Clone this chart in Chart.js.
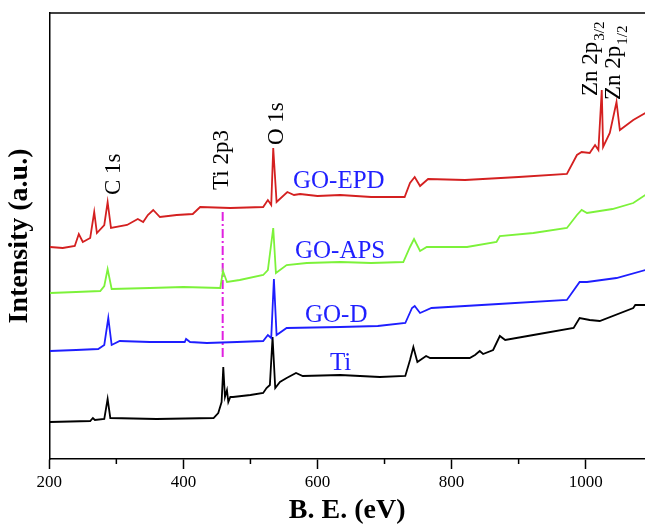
<!DOCTYPE html>
<html>
<head>
<meta charset="utf-8">
<script src="https://cdn.jsdelivr.net/npm/chart.js@4/dist/chart.umd.min.js"></script>
<style>
  html, body { margin: 0; padding: 0; background: #fff; }
</style>
</head>
<body>
<canvas id="chart" width="645" height="525"></canvas>
<script>
// binding energy (eV) / intensity (a.u.)
const epdEv  = [201, 220, 238, 244, 250, 261, 267, 271, 282, 287, 292, 316, 332, 340, 347, 355, 365, 390, 414, 425, 470, 519, 526, 531, 534, 539, 555, 565, 574, 600, 634, 680, 730, 738, 745, 753, 765, 820, 900, 972, 987, 994, 1006, 1014, 1019, 1024, 1026, 1036, 1046, 1051, 1071, 1089];
const epdInt = [212, 211, 213, 225, 217, 221, 247, 226, 234, 257, 231, 234, 240, 237, 244, 249, 242, 244, 245, 252, 251, 252, 259, 254, 311, 257, 267, 264, 265, 263, 264, 262, 262, 276, 282, 273, 280, 279, 282, 285, 304, 307, 306, 314, 309, 369, 312, 326, 357, 329, 339, 346];

const apsEv  = [201, 240, 276, 282, 287, 293, 350, 400, 455, 459, 465, 484, 519, 526, 534, 538, 554, 584, 634, 680, 728, 738, 744, 753, 763, 823, 867, 872, 922, 972, 987, 994, 1002, 1040, 1071, 1089];
const apsInt = [166, 167, 168, 173, 190, 170, 171, 172, 171, 188, 177, 179, 184, 189, 231, 186, 194, 196, 197, 196, 197, 212, 220, 208, 212, 212, 217, 223, 226, 231, 244, 249, 246, 250, 256, 264];

const godEv  = [201, 240, 273, 282, 288, 293, 305, 350, 402, 404, 410, 435, 480, 519, 526, 531, 535, 539, 554, 634, 690, 731, 741, 745, 753, 770, 870, 972, 991, 1002, 1046, 1089];
const godInt = [108, 109, 110, 114, 141, 114, 118, 117, 117, 120, 117, 116, 117, 118, 124, 121, 180, 124, 131, 132, 133, 136, 151, 153, 146, 151, 155, 159, 177, 177, 181, 189];

const tiEv  = [201, 261, 265, 268, 282, 287, 291, 360, 445, 452, 457, 459.5, 462, 465, 467, 470, 474, 500, 519, 524, 529, 533, 537, 544, 554, 568, 578, 634, 693, 731, 738, 743, 749, 762, 768, 827, 835, 842, 847, 862, 872, 880, 922, 982, 991, 1006, 1021, 1071, 1074, 1089];
const tiInt = [37, 38, 41, 39, 40, 60, 41, 40, 41, 46, 57, 92, 62, 69, 57, 62, 62, 64, 66, 71, 74, 122, 71, 77, 81, 86, 83, 84, 82, 83, 99, 112, 97, 103, 101, 101, 104, 108, 105, 109, 123, 119, 124, 131, 141, 139, 138, 151, 154, 154];

const ti2pEv  = [458.6, 458.6];
const ti2pInt = [102, 250];

const xTicks = [200, 400, 600, 800, 1000];
const minorTicks = [300, 500, 700, 900];

const toPoints = (xs, ys) => xs.map((x, i) => ({ x: x, y: ys[i] }));

// text placed in data coordinates
const peakLabels = [
    { text: 'C 1s', x: 305.6, y: 264 },
    { text: 'Ti 2p3', x: 466.5, y: 269 },
    { text: 'O 1s', x: 548.6, y: 314 },
    { text: 'Zn 2p', sub: '3/2', x: 1016.7, y: 363 },
    { text: 'Zn 2p', sub: '1/2', x: 1051, y: 359 }
];
const sampleLabels = [
    { text: 'GO-EPD', x: 563.4, y: 271 },
    { text: 'GO-APS', x: 566.4, y: 201 },
    { text: 'GO-D', x: 581.3, y: 137 },
    { text: 'Ti', x: 618.6, y: 89 }
];

const serif = '"Liberation Serif", "Times New Roman", serif';

const decorations = {
    id: 'decorations',
    afterDraw(chart) {
        const ctx = chart.ctx;
        const area = chart.chartArea;
        const xs = chart.scales.x, ys = chart.scales.y;
        ctx.save();
        // top frame
        ctx.strokeStyle = '#000';
        ctx.lineWidth = 1.5;
        ctx.beginPath();
        ctx.moveTo(area.left, area.top);
        ctx.lineTo(area.right, area.top);
        ctx.stroke();
        // minor ticks
        minorTicks.forEach(v => {
            const px = xs.getPixelForValue(v);
            ctx.beginPath();
            ctx.moveTo(px, area.bottom);
            ctx.lineTo(px, area.bottom + 5);
            ctx.stroke();
        });
        // peak labels
        ctx.fillStyle = '#000';
        peakLabels.forEach(l => {
            const px = xs.getPixelForValue(l.x), py = ys.getPixelForValue(l.y);
            ctx.save();
            ctx.translate(px, py);
            ctx.rotate(-Math.PI / 2);
            ctx.textAlign = 'left';
            ctx.textBaseline = 'alphabetic';
            ctx.font = '23px ' + serif;
            ctx.fillText(l.text, 0, 0);
            if (l.sub) {
                const w = ctx.measureText(l.text).width;
                ctx.font = '15px ' + serif;
                ctx.fillText(l.sub, w + 1, 7);
            }
            ctx.restore();
        });
        // sample names
        ctx.fillStyle = '#1f1fff';
        ctx.font = '25px ' + serif;
        ctx.textAlign = 'left';
        ctx.textBaseline = 'alphabetic';
        sampleLabels.forEach(l => {
            ctx.fillText(l.text, xs.getPixelForValue(l.x), ys.getPixelForValue(l.y));
        });
        ctx.restore();
    }
};

const line = (data, color) => ({
    data: data,
    borderColor: color,
    borderWidth: 1.8,
    pointRadius: 0,
    tension: 0,
    fill: false
});

const ti2p = line(toPoints(ti2pEv, ti2pInt), '#e020e0');
ti2p.borderDash = [9, 3, 2, 3];
ti2p.borderWidth = 2;

new Chart(document.getElementById('chart'), {
    type: 'line',
    data: {
        datasets: [
            line(toPoints(epdEv, epdInt), '#d42020'),
            line(toPoints(apsEv, apsInt), '#7cf23a'),
            line(toPoints(godEv, godInt), '#1e1eff'),
            line(toPoints(tiEv, tiInt), '#000000'),
            ti2p
        ]
    },
    options: {
        responsive: false,
        animation: false,
        layout: { padding: { top: 13, right: 0, left: 0, bottom: 0 } },
        plugins: { legend: { display: false }, tooltip: { enabled: false } },
        scales: {
            x: {
                type: 'linear',
                min: 200,
                max: 1088.5,
                afterBuildTicks: axis => { axis.ticks = xTicks.map(v => ({ value: v })); },
                ticks: {
                    color: '#000', padding: 5.5, maxRotation: 0,
                    font: { family: serif, size: 17, lineHeight: 1 },
                    callback: v => String(v)
                },
                grid: { drawOnChartArea: false, drawTicks: true, tickLength: 10, tickColor: '#000', tickWidth: 1.5 },
                border: { display: true, color: '#000', width: 1.5 },
                title: {
                    display: true,
                    text: 'B. E. (eV)',
                    color: '#000',
                    font: { family: serif, size: 28, weight: 'bold', lineHeight: 1 },
                    padding: { top: 0, bottom: 0 }
                }
            },
            y: {
                min: 0,
                max: 446,
                ticks: { display: false },
                grid: { display: false, drawTicks: false },
                border: { display: true, color: '#000', width: 1.5 },
                title: {
                    display: true,
                    text: 'Intensity (a.u.)',
                    color: '#000',
                    font: { family: serif, size: 28, weight: 'bold', lineHeight: 1 },
                    padding: { top: 6, bottom: 15.3 }
                }
            }
        }
    },
    plugins: [decorations]
});
</script>
</body>
</html>
